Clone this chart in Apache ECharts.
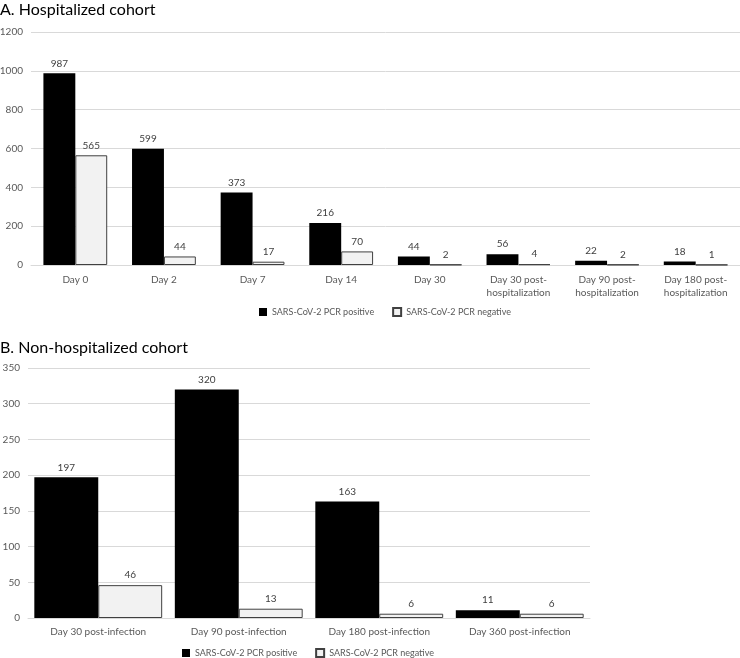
<!DOCTYPE html>
<html><head><meta charset="utf-8">
<script src="https://cdn.jsdelivr.net/npm/echarts@6/dist/echarts.min.js"></script>
<style>html,body{margin:0;padding:0;background:#fff}#c{width:740px;height:658px}</style>
</head><body><div id="c"></div>
<script>
const categoriesA = ["Day 0", "Day 2", "Day 7", "Day 14", "Day 30", "Day 30 post-\nhospitalization", "Day 90 post-\nhospitalization", "Day 180 post-\nhospitalization"];
const positiveA = [987, 599, 373, 216, 44, 56, 22, 18];
const negativeA = [565, 44, 17, 70, 2, 4, 2, 1];
const categoriesB = ["Day 30 post-infection", "Day 90 post-infection", "Day 180 post-infection", "Day 360 post-infection"];
const positiveB = [197, 320, 163, 11];
const negativeB = [46, 13, 6, 6];
const seriesNames = ["SARS-CoV-2 PCR positive", "SARS-CoV-2 PCR negative"];
const titleA = "A. Hospitalized cohort";
const titleB = "B. Non-hospitalized cohort";

const FONT = "Lato, 'Liberation Sans', sans-serif";
const chart = echarts.init(document.getElementById('c'), null, {renderer: 'canvas'});
const axisLabel = {color: '#595959', fontSize: 10, fontFamily: FONT};
const valLabel = {show: true, position: 'top', color: '#404040', fontSize: 10, fontFamily: FONT, distance: 5};
const posStyle = {color: '#000000'};
const negStyle = {color: '#f2f2f2', borderColor: '#404040', borderWidth: 1};
const plain = v => String(v);

chart.setOption({
  animation: false,
  title: [
    {text: titleA, left: -5, top: -3, textStyle: {fontSize: 16, fontWeight: 'normal', color: '#000', fontFamily: FONT}},
    {text: titleB, left: -5, top: 335, textStyle: {fontSize: 16, fontWeight: 'normal', color: '#000', fontFamily: FONT}}
  ],
  legend: [
    {data: seriesNames, left: 254, top: 302, itemWidth: 8, itemHeight: 8, itemGap: 18, icon: 'rect',
     textStyle: {color: '#595959', fontSize: 9, fontFamily: FONT}},
    {data: seriesNames, left: 177, top: 643, itemWidth: 8, itemHeight: 8, itemGap: 18, icon: 'rect',
     textStyle: {color: '#595959', fontSize: 9, fontFamily: FONT}}
  ],
  grid: [
    {left: 31, top: 32, width: 709, height: 233, outerBoundsMode: 'none', containLabel: false},
    {left: 28, top: 368, width: 562, height: 250, outerBoundsMode: 'none', containLabel: false}
  ],
  xAxis: [
    {type: 'category', gridIndex: 0, data: categoriesA, axisTick: {show: false},
     axisLine: {lineStyle: {color: '#d9d9d9'}}, axisLabel: Object.assign({margin: 8, interval: 0, lineHeight: 13}, axisLabel)},
    {type: 'category', gridIndex: 1, data: categoriesB, axisTick: {show: false},
     axisLine: {lineStyle: {color: '#d9d9d9'}}, axisLabel: Object.assign({margin: 9, interval: 0}, axisLabel)}
  ],
  yAxis: [
    {type: 'value', gridIndex: 0, min: 0, max: 1200, interval: 200, axisLine: {show: false}, axisTick: {show: false},
     splitLine: {lineStyle: {color: '#d9d9d9'}}, axisLabel: Object.assign({margin: 8, formatter: plain}, axisLabel)},
    {type: 'value', gridIndex: 1, min: 0, max: 350, interval: 50, axisLine: {show: false}, axisTick: {show: false},
     splitLine: {lineStyle: {color: '#d9d9d9'}}, axisLabel: Object.assign({margin: 8, formatter: plain}, axisLabel)}
  ],
  series: [
    {name: seriesNames[0], type: 'bar', xAxisIndex: 0, yAxisIndex: 0, data: positiveA, itemStyle: posStyle,
     barGap: '0%', barCategoryGap: '28%', label: valLabel},
    {name: seriesNames[1], type: 'bar', xAxisIndex: 0, yAxisIndex: 0, data: negativeA, itemStyle: negStyle,
     barGap: '0%', barCategoryGap: '28%', label: valLabel},
    {name: seriesNames[0], type: 'bar', xAxisIndex: 1, yAxisIndex: 1, data: positiveB, itemStyle: posStyle,
     barGap: '0%', barCategoryGap: '9%', label: valLabel},
    {name: seriesNames[1], type: 'bar', xAxisIndex: 1, yAxisIndex: 1, data: negativeB, itemStyle: negStyle,
     barGap: '0%', barCategoryGap: '9%', label: valLabel}
  ]
});
</script></body></html>
